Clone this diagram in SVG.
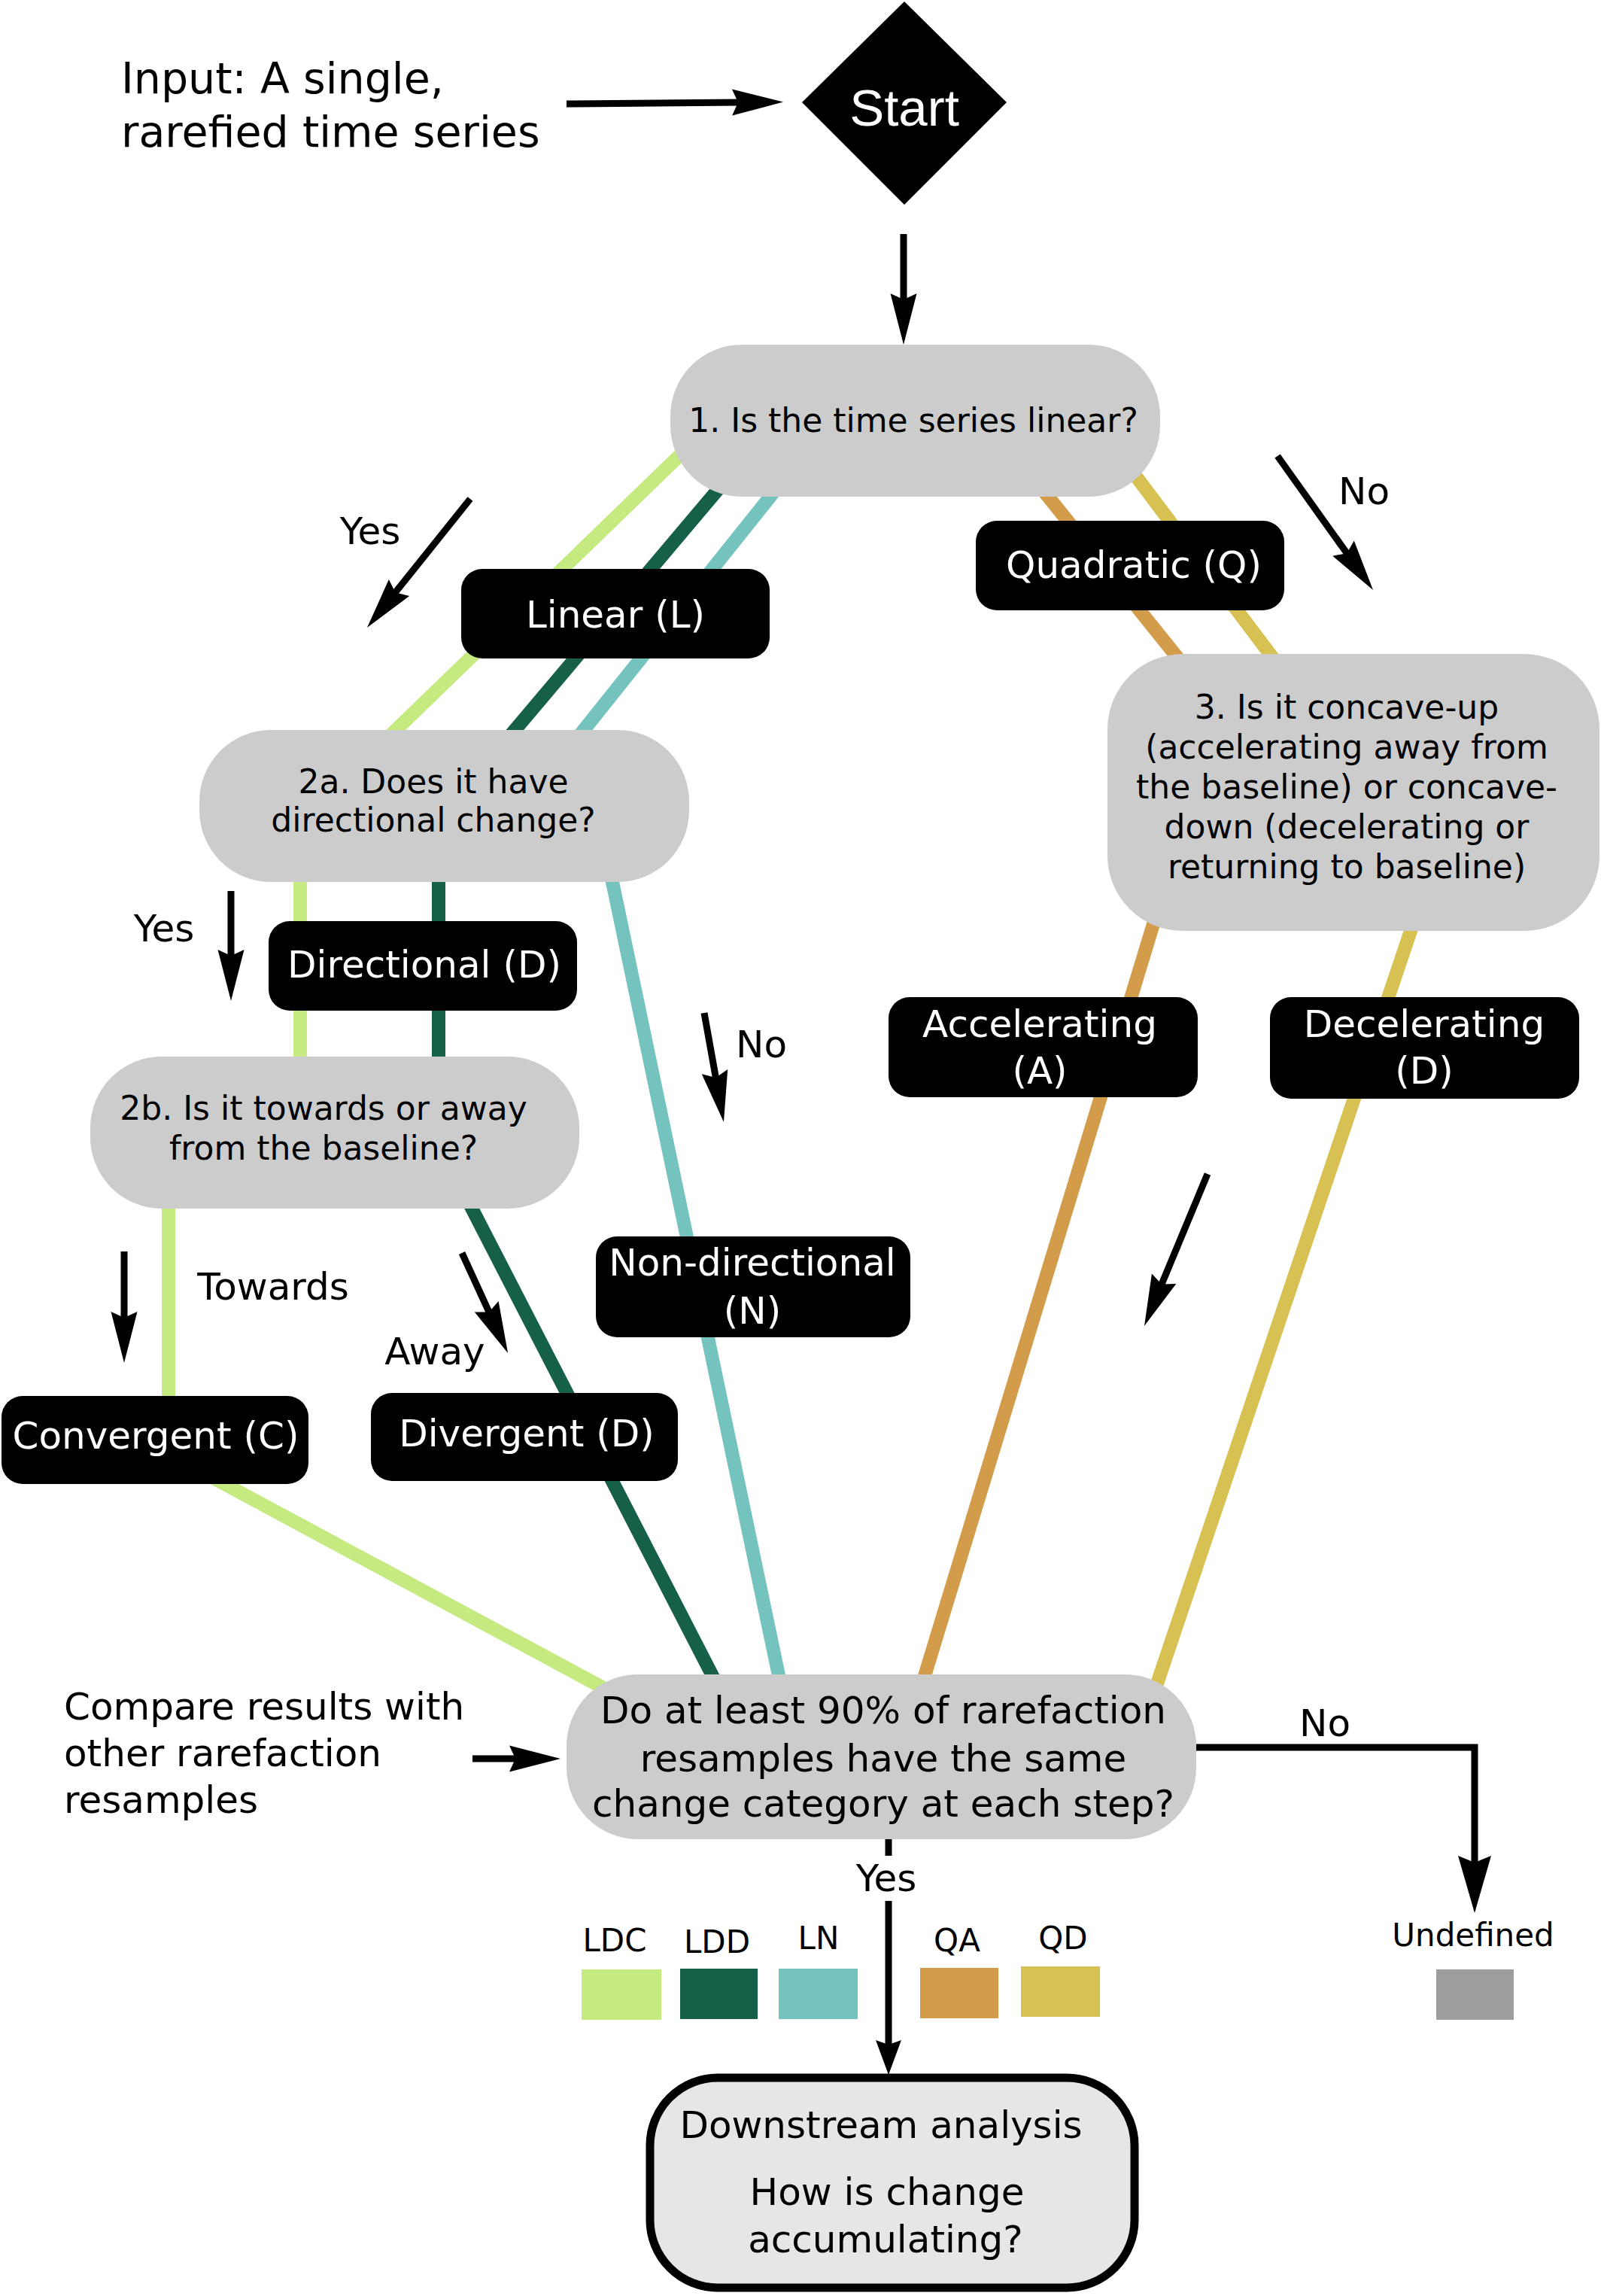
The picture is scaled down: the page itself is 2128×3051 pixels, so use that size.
<svg xmlns="http://www.w3.org/2000/svg" width="2128" height="3051" viewBox="0 0 2128 3051">
<style>
.t{font-family:"DejaVu Sans","Verdana",sans-serif;fill:#000}
.w{font-family:"DejaVu Sans","Verdana",sans-serif;fill:#fff;font-size:50px;text-anchor:middle}
.q{fill:#cccccc}
.b{fill:#000}
.c{fill:none;stroke-width:18;stroke-linejoin:round}
.a{fill:none;stroke:#000;stroke-width:9}
.lab{font-size:50px;text-anchor:middle}
.n44{font-size:44px;text-anchor:middle}
.n50{font-size:50px;text-anchor:middle}
.lg{font-size:42px;text-anchor:middle}
</style>
<defs>
<marker id="ah" markerUnits="userSpaceOnUse" viewBox="-70 -20 72 40" markerWidth="72" markerHeight="40" refX="-56" refY="0" orient="auto"><path d="M0,0 L-68,-17.5 L-60,0 L-68,17.5 Z" fill="#000"/></marker>
<marker id="ahL" markerUnits="userSpaceOnUse" viewBox="-80 -25 84 50" markerWidth="84" markerHeight="50" refX="-63" refY="0" orient="auto"><path d="M0,0 L-76,-22 L-67,0 L-76,22 Z" fill="#000"/></marker>
<marker id="ahS" markerUnits="userSpaceOnUse" viewBox="-50 -20 54 40" markerWidth="54" markerHeight="40" refX="-37" refY="0" orient="auto"><path d="M0,0 L-46,-17 L-40,0 L-46,17 Z" fill="#000"/></marker>
</defs>
<rect x="0" y="0" width="2128" height="3051" fill="#fff"/>

<g id="connectors">
<path class="c" stroke="#c5ea80" d="M950,560 L399,1093 L399,1450 L224,1500 L224,1932 L830,2258"/>
<path class="c" stroke="#16604a" d="M997,600 L583,1090 L583,1520 L960,2252"/>
<path class="c" stroke="#74c3bf" d="M1062,612 L740,1015 L801,1110 L1040,2250"/>
<path class="c" stroke="#d39c4a" d="M1361,620 L1620,942 L1222,2250"/>
<path class="c" stroke="#d7c152" d="M1485,600 L1903,1154 L1532,2255"/>
<path class="a" d="M753,138 L985,136" marker-end="url(#ah)"/>
<path class="a" d="M1201,311 L1201,402" marker-end="url(#ah)"/>
<path class="a" d="M625,663 L523,790.3" marker-end="url(#ah)"/>
<path class="a" d="M1698,606 L1792.5,738.4" marker-end="url(#ah)"/>
<path class="a" d="M307,1184 L307,1274" marker-end="url(#ah)"/>
<path class="a" d="M936,1346 L952.1,1435.9" marker-end="url(#ah)"/>
<path class="a" d="M165,1663 L165,1755" marker-end="url(#ah)"/>
<path class="a" d="M614,1665 L651.7,1747.1" marker-end="url(#ah)"/>
<path class="a" d="M1605,1560 L1542.5,1710.3" marker-end="url(#ah)"/>
<path class="a" d="M628,2337 L689,2337" marker-end="url(#ah)"/>
<path class="a" d="M1590,2322 H1960 V2479" marker-end="url(#ahL)"/>
<path class="a" d="M1181,2444 V2466"/>
<path class="a" d="M1181,2526 V2720" marker-end="url(#ahS)"/>
<text class="t lab" x="492" y="723">Yes</text>
<text class="t lab" x="1813" y="670">No</text>
<text class="t lab" x="218" y="1251">Yes</text>
<text class="t lab" x="1012" y="1405">No</text>
<text class="t lab" x="363" y="1727">Towards</text>
<text class="t lab" x="578" y="1813">Away</text>
<text class="t lab" x="1761" y="2307">No</text>
<text class="t lab" x="1178" y="2513">Yes</text>
</g>

<g id="input">
<text class="t" font-size="57" x="161" y="124">Input: A single,</text>
<text class="t" font-size="57" x="161" y="195">rarefied time series</text>
</g>

<g id="start">
<polygon class="b" points="1202,2 1338,136 1202,272 1066,136"/>
<text x="1202" y="167" font-family="'Liberation Sans',Arial,sans-serif" font-size="69" fill="#fff" text-anchor="middle">Start</text>
</g>

<g id="q1">
<rect class="q" x="891" y="458" width="651" height="202" rx="95"/>
<text class="t n44" x="1214" y="574">1. Is the time series linear?</text>
</g>

<g id="linear">
<rect class="b" x="613" y="756" width="410" height="119" rx="28"/>
<text class="w" x="818" y="834">Linear (L)</text>
</g>

<g id="quadratic">
<rect class="b" x="1297" y="692" width="410" height="119" rx="28"/>
<text class="w" x="1507" y="768">Quadratic (Q)</text>
</g>

<g id="q2a">
<rect class="q" x="265" y="970" width="651" height="202" rx="95"/>
<text class="t n44" x="576" y="1054">2a. Does it have</text>
<text class="t n44" x="576" y="1105">directional change?</text>
</g>

<g id="q3">
<rect class="q" x="1472" y="869" width="654" height="368" rx="100"/>
<text class="t n44" x="1790" y="955">3. Is it concave-up</text>
<text class="t n44" x="1790" y="1008">(accelerating away from</text>
<text class="t n44" x="1790" y="1061">the baseline) or concave-</text>
<text class="t n44" x="1790" y="1114">down (decelerating or</text>
<text class="t n44" x="1790" y="1167">returning to baseline)</text>
</g>

<g id="directional">
<rect class="b" x="357" y="1224" width="410" height="119" rx="28"/>
<text class="w" x="564" y="1299">Directional (D)</text>
</g>

<g id="q2b">
<rect class="q" x="120" y="1404" width="650" height="202" rx="95"/>
<text class="t n44" x="430" y="1488">2b. Is it towards or away</text>
<text class="t n44" x="430" y="1541">from the baseline?</text>
</g>

<g id="accelerating">
<rect class="b" x="1181" y="1325" width="411" height="133" rx="28"/>
<text class="w" x="1382" y="1378">Accelerating</text>
<text class="w" x="1382" y="1440">(A)</text>
</g>

<g id="decelerating">
<rect class="b" x="1688" y="1325" width="411" height="135" rx="28"/>
<text class="w" x="1893" y="1378">Decelerating</text>
<text class="w" x="1893" y="1440">(D)</text>
</g>

<g id="nondirectional">
<rect class="b" x="792" y="1643" width="418" height="134" rx="28"/>
<text class="w" x="1000" y="1695">Non-directional</text>
<text class="w" x="1000" y="1759">(N)</text>
</g>

<g id="convergent">
<rect class="b" x="2" y="1855" width="408" height="117" rx="28"/>
<text class="w" x="207" y="1925">Convergent (C)</text>
</g>

<g id="divergent">
<rect class="b" x="493" y="1851" width="408" height="117" rx="28"/>
<text class="w" x="700" y="1922">Divergent (D)</text>
</g>

<g id="compare">
<text class="t" font-size="50" x="85" y="2285">Compare results with</text>
<text class="t" font-size="50" x="85" y="2347">other rarefaction</text>
<text class="t" font-size="50" x="85" y="2409">resamples</text>
</g>

<g id="consensus">
<rect class="q" x="753" y="2225" width="837" height="219" rx="95"/>
<text class="t n50" x="1174" y="2290">Do at least 90% of rarefaction</text>
<text class="t n50" x="1174" y="2354">resamples have the same</text>
<text class="t n50" x="1174" y="2414">change category at each step?</text>
</g>

<g id="legend">
<text class="t lg" x="817" y="2593">LDC</text>
<text class="t lg" x="953" y="2595">LDD</text>
<text class="t lg" x="1088" y="2590">LN</text>
<text class="t lg" x="1272" y="2593">QA</text>
<text class="t lg" x="1413" y="2590">QD</text>
<rect x="773" y="2617" width="106" height="67" fill="#c5ea80"/>
<rect x="904" y="2616" width="103" height="67" fill="#16604a"/>
<rect x="1035" y="2616" width="105" height="67" fill="#74c3bf"/>
<rect x="1223" y="2615" width="104" height="67" fill="#d39c4a"/>
<rect x="1357" y="2613" width="105" height="67" fill="#d7c152"/>
</g>

<g id="undefined">
<text class="t lg" x="1958" y="2586">Undefined</text>
<rect x="1909" y="2617" width="103" height="67" fill="#9d9d9d"/>
</g>

<g id="downstream">
<rect x="864" y="2761" width="644" height="279" rx="90" fill="#e6e6e6" stroke="#000" stroke-width="11"/>
<text class="t n50" x="1171" y="2841">Downstream analysis</text>
<text class="t n50" x="1179" y="2930">How is change</text>
<text class="t n50" x="1177" y="2993">accumulating?</text>
</g>
</svg>
